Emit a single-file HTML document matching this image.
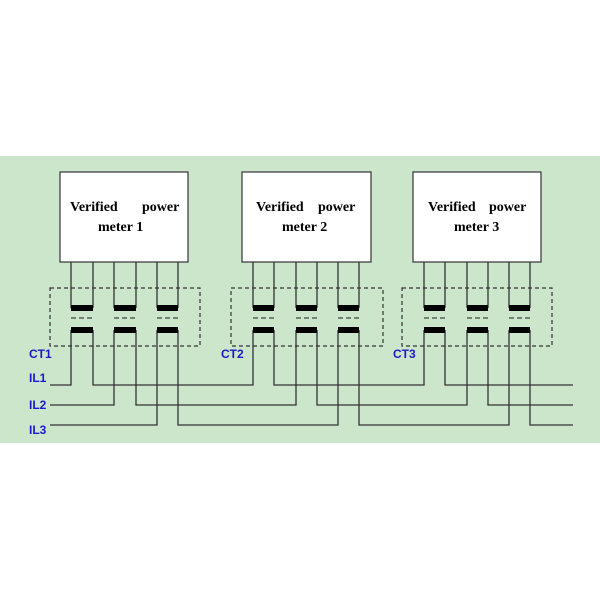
<!DOCTYPE html>
<html><head><style>
body{margin:0;background:#fff}
svg{display:block}
.t{font-family:"Liberation Serif",serif;font-weight:bold;font-size:14px;fill:#000}
.b{font-family:"Liberation Sans",sans-serif;font-weight:bold;font-size:12px;fill:#1a1acc}
</style></head><body>
<svg width="600" height="600" viewBox="0 0 600 600">
<rect x="0" y="156" width="600" height="287" fill="#cce6cc"/>
<g stroke="#333" stroke-width="1.3" fill="none">
<!-- wires IL -->
<polyline points="50,385 71,385 71,330"/>
<polyline points="50,405 114,405 114,330"/>
<polyline points="50,425 157,425 157,330"/>
<polyline points="93,330 93,385 253,385 253,330"/>
<polyline points="136,330 136,405 296,405 296,330"/>
<polyline points="178,330 178,425 338,425 338,330"/>
<polyline points="274,330 274,385 424,385 424,330"/>
<polyline points="317,330 317,405 467,405 467,330"/>
<polyline points="359,330 359,425 509,425 509,330"/>
<polyline points="445,330 445,385 573,385"/>
<polyline points="488,330 488,405 573,405"/>
<polyline points="530,330 530,425 573,425"/>
<!-- meter leads -->
<path d="M71,262V308M93,262V308M114,262V308M136,262V308M157,262V308M178,262V308"/>
<path d="M253,262V308M274,262V308M296,262V308M317,262V308M338,262V308M359,262V308"/>
<path d="M424,262V308M445,262V308M467,262V308M488,262V308M509,262V308M530,262V308"/>
</g>
<g stroke="#333" stroke-width="1.2" fill="none" stroke-dasharray="4,3">
<rect x="50" y="288" width="150" height="58"/>
<rect x="231" y="288" width="152" height="58"/>
<rect x="402" y="288" width="150" height="58"/>
</g>
<g fill="#000">
<rect x="71" y="305" width="22" height="6"/><rect x="114" y="305" width="22" height="6"/><rect x="157" y="305" width="21" height="6"/>
<rect x="71" y="327" width="22" height="6"/><rect x="114" y="327" width="22" height="6"/><rect x="157" y="327" width="21" height="6"/>
<rect x="253" y="305" width="21" height="6"/><rect x="296" y="305" width="21" height="6"/><rect x="338" y="305" width="21" height="6"/>
<rect x="253" y="327" width="21" height="6"/><rect x="296" y="327" width="21" height="6"/><rect x="338" y="327" width="21" height="6"/>
<rect x="424" y="305" width="21" height="6"/><rect x="467" y="305" width="21" height="6"/><rect x="509" y="305" width="21" height="6"/>
<rect x="424" y="327" width="21" height="6"/><rect x="467" y="327" width="21" height="6"/><rect x="509" y="327" width="21" height="6"/>
</g>
<g stroke="#444" stroke-width="1.2" stroke-dasharray="5,3">
<path d="M71,318H93M114,318H136M157,318H178M253,318H274M296,318H317M338,318H359M424,318H445M467,318H488M509,318H530"/>
</g>
<g fill="#fff" stroke="#333" stroke-width="1.2">
<rect x="60" y="172" width="128" height="90"/>
<rect x="242" y="172" width="129" height="90"/>
<rect x="413" y="172" width="128" height="90"/>
</g>
<text class="t" x="70" y="211">Verified</text><text class="t" x="142" y="211">power</text>
<text class="t" x="98" y="231">meter 1</text>
<text class="t" x="256" y="211">Verified</text><text class="t" x="318" y="211">power</text>
<text class="t" x="282" y="231">meter 2</text>
<text class="t" x="428" y="211">Verified</text><text class="t" x="489" y="211">power</text>
<text class="t" x="454" y="231">meter 3</text>
<text class="b" x="29" y="358">CT1</text>
<text class="b" x="221" y="358">CT2</text>
<text class="b" x="393" y="358">CT3</text>
<text class="b" x="29" y="382">IL1</text>
<text class="b" x="29" y="409">IL2</text>
<text class="b" x="29" y="434">IL3</text>
</svg>
</body></html>
